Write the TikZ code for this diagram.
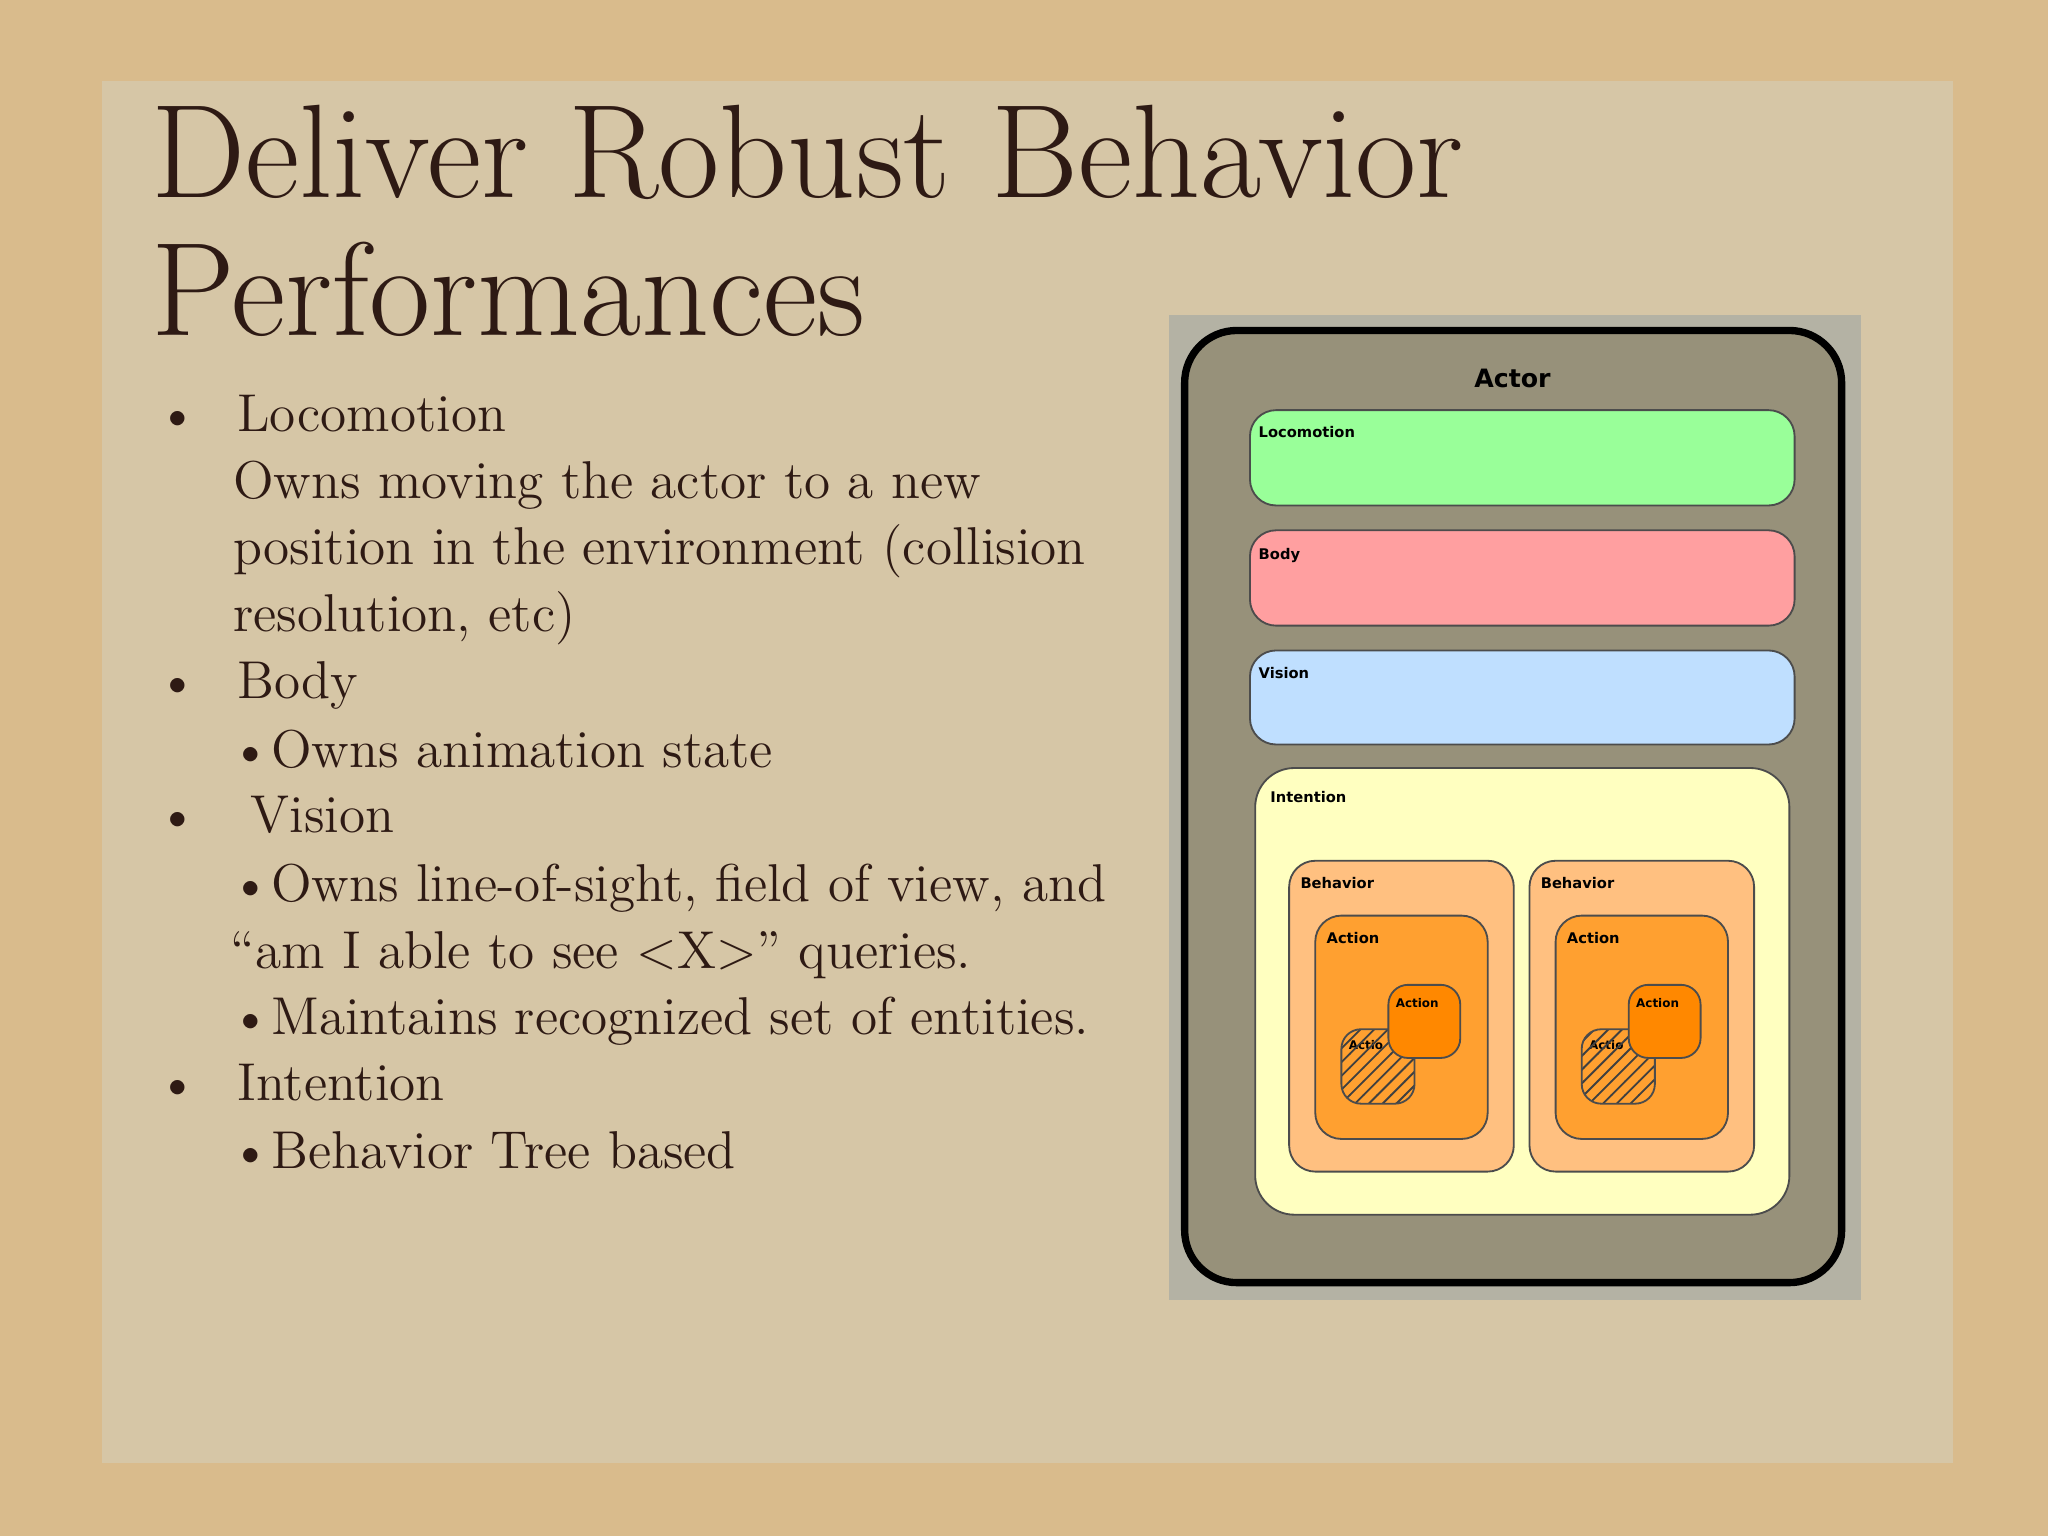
\documentclass[tikz,border=0pt]{standalone}
\usepackage{fontspec}
\setsansfont{DejaVu Sans}
\usetikzlibrary{patterns}
\definecolor{pagebg}{HTML}{D9BB8C}
\definecolor{paper}{HTML}{D6C6A6}
\definecolor{ink}{HTML}{2E1A14}
\definecolor{frame}{HTML}{B4B2A4}
\definecolor{actorc}{HTML}{97917A}
\definecolor{lococ}{HTML}{99FF99}
\definecolor{bodyc}{HTML}{FF9FA0}
\definecolor{visc}{HTML}{BFDFFF}
\definecolor{intc}{HTML}{FFFFC0}
\definecolor{behc}{HTML}{FFC080}
\definecolor{actc}{HTML}{FFA030}
\definecolor{act2c}{HTML}{FF8800}
\tikzset{
 lane/.style={draw=black!70, line width=0.4pt, rounded corners=2mm},
 lbl/.style={anchor=north west, font=\sffamily\bfseries\fontsize{3.2}{4}\selectfont, inner sep=0pt},
 body/.style={anchor=north west, text=ink, font=\fontsize{11.6}{14.5}\selectfont, inner sep=0pt, align=left},
}
\begin{document}
\begin{tikzpicture}[x=0.1mm,y=-0.1mm]
\fill[pagebg] (0,0) rectangle (1568,1176);
\fill[paper] (78,62) rectangle (1495,1120);
\node[anchor=north west, text=ink, font=\fontsize{29}{30}\selectfont, inner sep=0pt, align=left] (title) at (115,80) {Deliver Robust Behavior\\Performances};
\node[body] (b1) at (120,302) {\textbullet\hspace{3mm}Locomotion};
\node[body] (t1) at (178,352) {Owns moving the actor to a new\\position in the environment (collision\\resolution, etc)};
\node[body] (b2) at (120,506) {\textbullet\hspace{3mm}Body};
\node[body] (t2) at (176,558) {\textbullet Owns animation state};
\node[body] (b3) at (120,609) {\textbullet\hspace{4mm}Vision};
\node[body] (t3) at (176,661) {\textbullet Owns line-of-sight, field of view, and\\``am I able to see <X>'' queries.\\\textbullet Maintains recognized set of entities.};
\node[body] (b4) at (120,814) {\textbullet\hspace{3mm}Intention};
\node[body] (t4) at (176,866) {\textbullet Behavior Tree based};
% diagram
\fill[frame] (895,241) rectangle (1425,995);
\draw[fill=actorc, line width=1.6pt, rounded corners=4mm] (907,253) rectangle (1410,982);
\node[font=\sffamily\bfseries\fontsize{5.5}{6}\selectfont] (actor) at (1158,290) {Actor};
\draw[lane, fill=lococ] (957,314) rectangle (1374,387);
\node[lbl] (lo) at (963,326) {Locomotion};
\draw[lane, fill=bodyc] (957,406) rectangle (1374,479);
\node[lbl] (bo) at (963,419) {Body};
\draw[lane, fill=visc] (957,498) rectangle (1374,570);
\node[lbl] (vi) at (963,510) {Vision};
\draw[lane, fill=intc, rounded corners=3mm] (961,588) rectangle (1370,930);
\node[lbl] (in) at (972,605) {Intention};
\foreach \dx/\n in {0/a,184/b}{
 \draw[lane, fill=behc] (987+\dx,659) rectangle (1159+\dx,897);
 \node[lbl] (beh\n) at (995+\dx,671) {Behavior};
 \draw[lane, fill=actc] (1007+\dx,701) rectangle (1139+\dx,872);
 \node[lbl] (act\n) at (1015+\dx,713) {Action};
 \fill[actc, rounded corners=1.5mm] (1027+\dx,788) rectangle (1083+\dx,845);
 \node[lbl, font=\sffamily\bfseries\fontsize{2.6}{3}\selectfont] (ac\n) at (1032+\dx,796) {Actio};
 \draw[black!70, rounded corners=1.5mm, pattern=north east lines, pattern color=black!75] (1027+\dx,788) rectangle (1083+\dx,845);
 \draw[lane, fill=act2c, rounded corners=1.5mm] (1063+\dx,754) rectangle (1118+\dx,810);
 \node[lbl, font=\sffamily\bfseries\fontsize{2.6}{3}\selectfont] (acc\n) at (1068+\dx,764) {Action};
}
\end{tikzpicture}
\end{document}
